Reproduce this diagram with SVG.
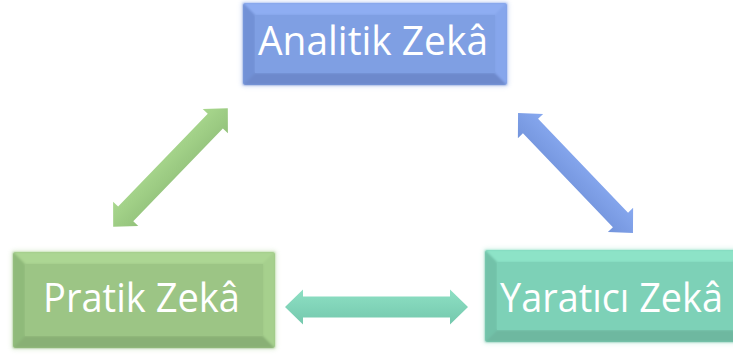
<svg xmlns="http://www.w3.org/2000/svg" width="733" height="356" viewBox="0 0 733 356">
<defs>
<filter id="glow" x="-10%" y="-10%" width="120%" height="120%">
<feGaussianBlur stdDeviation="2"/>
</filter>
<filter id="soft" x="-5%" y="-5%" width="110%" height="110%">
<feGaussianBlur stdDeviation="1.2"/>
</filter>
<linearGradient id="gArrow" x1="0" y1="0" x2="0" y2="1"><stop offset="0" stop-color="#a9d88e"/><stop offset="1" stop-color="#93c27b"/></linearGradient>
<linearGradient id="bArrow" x1="0" y1="0" x2="0" y2="1"><stop offset="0" stop-color="#88a9f0"/><stop offset="1" stop-color="#7394dc"/></linearGradient>
<linearGradient id="tArrow" x1="0" y1="0" x2="0" y2="1"><stop offset="0" stop-color="#8ee0c4"/><stop offset="1" stop-color="#74c8ad"/></linearGradient>
</defs>
<style>
.lbl{font-family:"Open Sans","Noto Sans","Liberation Sans",sans-serif;font-size:41px;fill:#ffffff;text-anchor:middle}
.halo{opacity:0.35}
</style>
<rect width="733" height="356" fill="#ffffff"/>
<g id="connectors">
<path id="arrow-pratik-analitik" fill="url(#gArrow)" transform="translate(170.5,167.5) rotate(-46)" d="M-82.5,0 L-64.5,-17.5 L-64.5,-10.5 L64.5,-10.5 L64.5,-17.5 L82.5,0 L64.5,17.5 L64.5,10.5 L-64.5,10.5 L-64.5,17.5 Z"/>
<path id="arrow-analitik-yaratici" fill="url(#bArrow)" transform="translate(575.5,173) rotate(46.2)" d="M-83,0 L-65,-17.5 L-65,-10.5 L65,-10.5 L65,-17.5 L83,0 L65,17.5 L65,10.5 L-65,10.5 L-65,17.5 Z"/>
<path id="arrow-pratik-yaratici" fill="url(#tArrow)" transform="translate(376.5,307)" d="M-91.5,0 L-73.5,-17.5 L-73.5,-10.5 L73.5,-10.5 L73.5,-17.5 L91.5,0 L73.5,17.5 L73.5,10.5 L-73.5,10.5 L-73.5,17.5 Z"/>
</g>
<g id="node-analitik">
<rect class="halo" x="241" y="1" width="268" height="86" rx="4" fill="#9fb6ea" filter="url(#glow)"/>
<rect x="243" y="3" width="264" height="82" rx="3" fill="#7f9fe3"/>
<g filter="url(#soft)">
<polygon points="243,3 507,3 495,15 255,15" fill="#8eadf2"/>
<polygon points="243,3 255,15 255,73 243,85" fill="#7291d6"/>
<polygon points="243,85 255,73 495,73 507,85" fill="#6d89cc"/>
<polygon points="507,3 507,85 495,73 495,15" fill="#86a6ec"/>
</g>
<rect x="255" y="15" width="240" height="58" fill="#7f9fe3"/>
<text class="lbl" x="373" y="55" textLength="230" lengthAdjust="spacingAndGlyphs">Analitik Zekâ</text>
</g>
<g id="node-pratik">
<rect class="halo" x="11" y="250" width="266" height="100" rx="4" fill="#b9d8a6" filter="url(#glow)"/>
<rect x="13" y="252" width="262" height="96" rx="3" fill="#9cc585"/>
<g filter="url(#soft)">
<polygon points="13,252 275,252 263,264 25,264" fill="#acd693"/>
<polygon points="13,252 25,264 25,336 13,348" fill="#8fba7a"/>
<polygon points="13,348 25,336 263,336 275,348" fill="#89b074"/>
<polygon points="275,252 275,348 263,336 263,264" fill="#a6d08d"/>
</g>
<rect x="25" y="264" width="238" height="72" fill="#9cc585"/>
<text class="lbl" x="141.5" y="312" textLength="197" lengthAdjust="spacingAndGlyphs">Pratik Zekâ</text>
</g>
<g id="node-yaratici">
<rect class="halo" x="483" y="248" width="264" height="96" rx="4" fill="#a6e3cf" filter="url(#glow)"/>
<rect x="485" y="250" width="260" height="92" rx="3" fill="#7dd1b7"/>
<g filter="url(#soft)">
<polygon points="485,250 745,250 733,262 497,262" fill="#8de3c7"/>
<polygon points="485,250 497,262 497,330 485,342" fill="#72c2a9"/>
<polygon points="485,342 497,330 733,330 745,342" fill="#6eb8a0"/>
</g>
<rect x="497" y="262" width="236" height="68" fill="#7dd1b7"/>
<text class="lbl" x="611.5" y="312" textLength="223" lengthAdjust="spacingAndGlyphs">Yaratıcı Zekâ</text>
</g>
</svg>
